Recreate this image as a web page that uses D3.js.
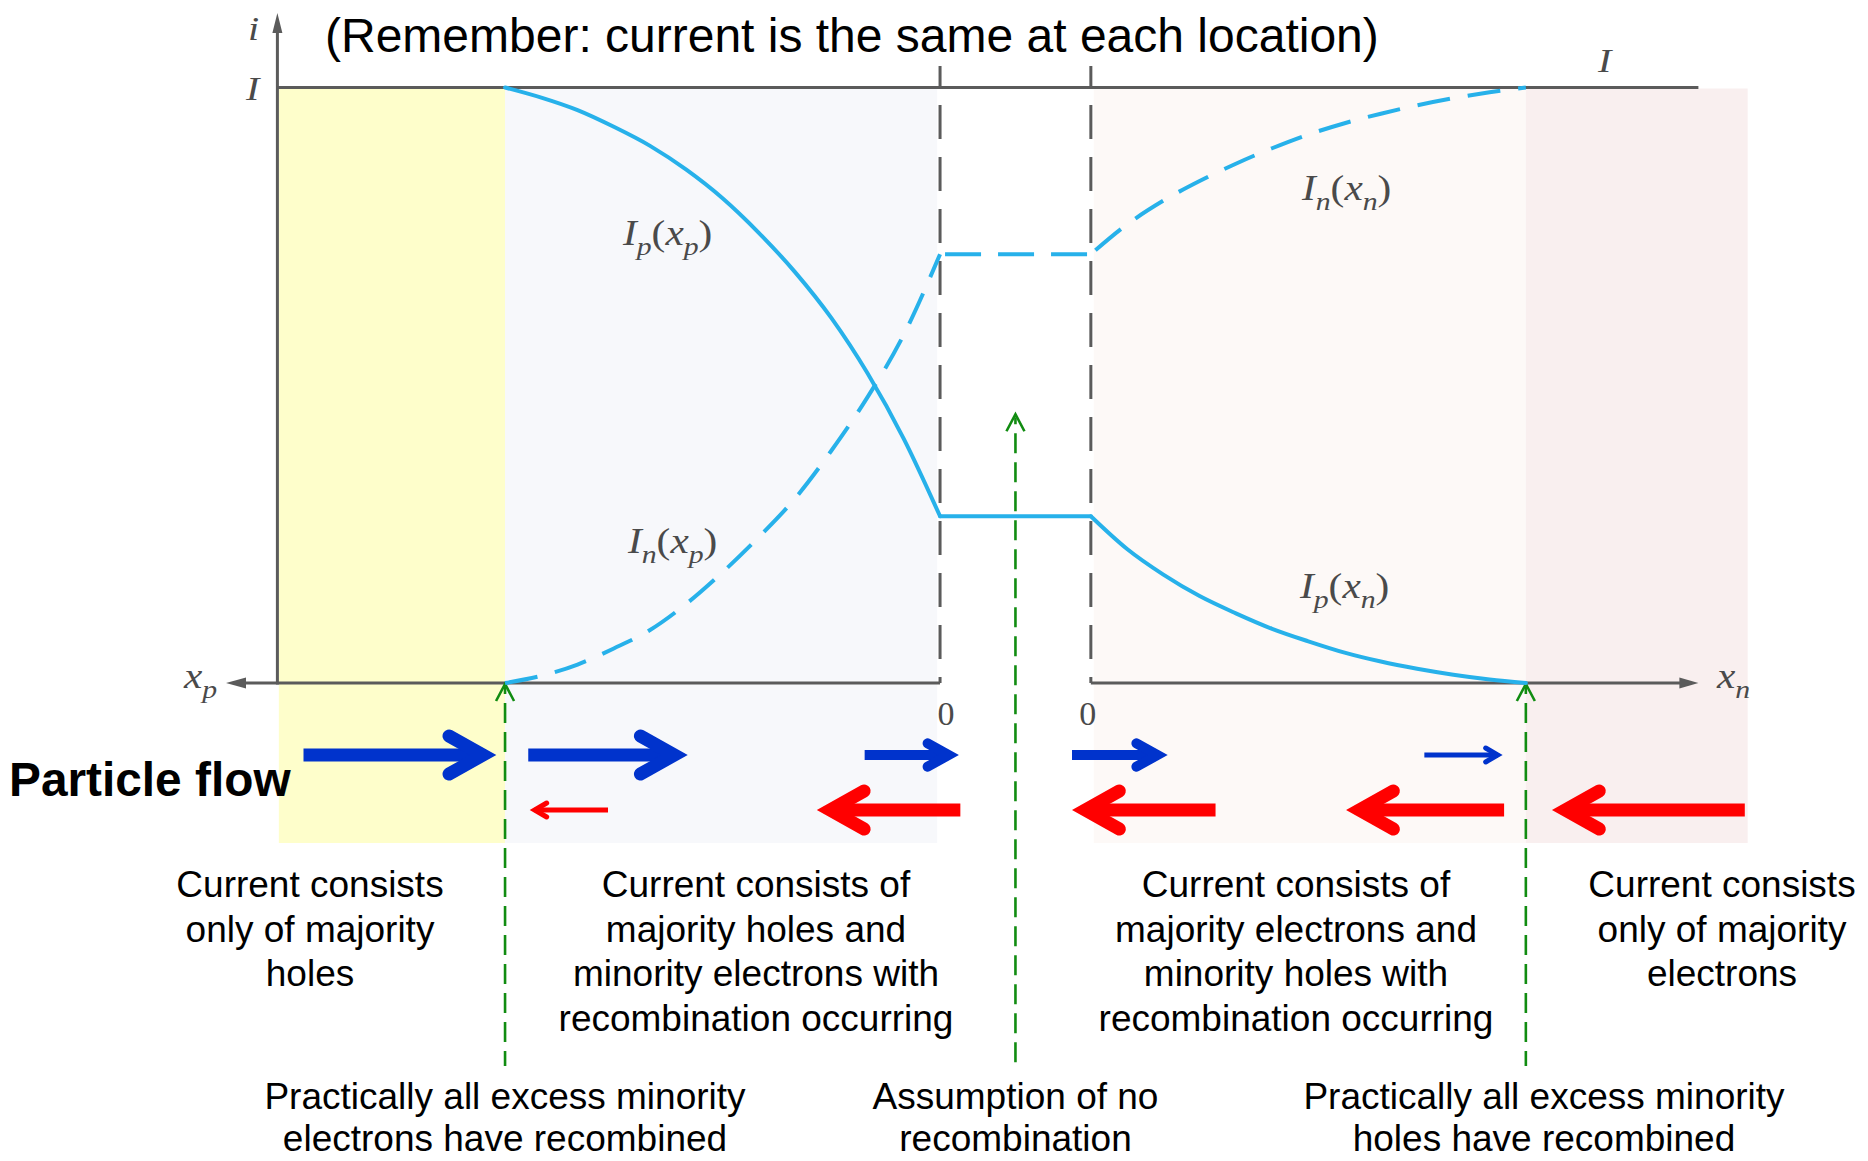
<!DOCTYPE html>
<html>
<head>
<meta charset="utf-8">
<script src="https://cdn.jsdelivr.net/npm/d3@7"></script>
<style>
  html, body { margin: 0; padding: 0; background: #fff; }
  svg { display: block; }
</style>
</head>
<body>
<svg id="chart" width="1868" height="1161"></svg>
<script>
// ---- Device geometry (arbitrary length units) ----
const depletionWidth = 1.04;   // width of the space-charge region
const recombLength = 3.0;      // distance over which excess minority carriers die out

// ---- Currents as a fraction of the total current I ----
// p side: distance x_p measured leftwards from the p edge of the depletion region
const xpDist = [0, 0.25, 0.5, 0.75, 1.0, 1.25, 1.5, 1.75, 2.0, 2.25, 2.5, 2.75, 3.0];
const ipOnP  = [0.28, 0.41, 0.52, 0.613, 0.69, 0.756, 0.814, 0.862, 0.902, 0.934, 0.962, 0.983, 1.0];
const inOnP  = [0.72, 0.585, 0.48, 0.39, 0.31, 0.245, 0.186, 0.133, 0.089, 0.058, 0.031, 0.012, 0.0];
// n side: distance x_n measured rightwards from the n edge
const xnDist = [0, 0.25, 0.5, 0.75, 1.0, 1.25, 1.5, 1.75, 2.0, 2.25, 2.5, 2.75, 3.0];
const inOnN  = [0.72, 0.77, 0.81, 0.843, 0.872, 0.898, 0.921, 0.94, 0.956, 0.97, 0.982, 0.992, 1.0];
const ipOnN  = [0.28, 0.225, 0.182, 0.146, 0.117, 0.091, 0.07, 0.051, 0.036, 0.024, 0.014, 0.006, 0.0];
// inside the depletion region (no recombination): value at p edge, n edge
const ipInDepletion = [0.28, 0.28];
const inInDepletion = [0.72, 0.72];

// ---- Particle-flow arrows (position u along the device, p edge at u = 0) ----
const flowCarrier = ["hole", "hole", "hole", "hole", "hole",
                     "electron", "electron", "electron", "electron", "electron"];
const flowFrom    = [-4.39, -2.84, -0.52, 0.91, 3.34,   -2.29, 0.14, 1.90, 3.89, 5.55];
const flowTo      = [-3.06, -1.74, 0.13, 1.57, 3.88,    -2.83, -0.85, 0.91, 2.80, 4.22];
const flowSize    = ["major", "major", "mid", "mid", "minor",
                     "minor", "major", "major", "major", "major"];

// ---- Text ----
const titleText = "(Remember: current is the same at each location)";
const regionNotes = [
  ["Current consists", "only of majority", "holes"],
  ["Current consists of", "majority holes and", "minority electrons with", "recombination occurring"],
  ["Current consists of", "majority electrons and", "minority holes with", "recombination occurring"],
  ["Current consists", "only of majority", "electrons"]
];
const markerNotes = [
  ["Practically all excess minority", "electrons have recombined"],
  ["Assumption of no", "recombination"],
  ["Practically all excess minority", "holes have recombined"]
];

// ---- Scales ----
const W = depletionWidth, L = recombLength;
const x = d3.scaleLinear().domain([-4.57, W + 4.19]).range([277.4, 1698.4]);
const y = d3.scaleLinear().domain([0, 1]).range([683, 87.5]);

const svg = d3.select("#chart");
const AXIS = "#5b5b5b";
const CURVE = "#27b1ea";
const GREEN = "#118c11";
const SANS = "'Liberation Sans', Arial, Helvetica, sans-serif";
const SERIF = "'Liberation Serif', 'Times New Roman', serif";

// ---- Region shading ----
const bgBottom = 843;
const regions = [
  { from: -4.56, to: -L, fill: "#fefecb" },
  { from: -L, to: -0.02, fill: "#f7f8fb" },
  { from: W + 0.02, to: W + L, fill: "#fdf9f7" },
  { from: W + L, to: 5.57, fill: "#f9efef" }
];
svg.append("g").selectAll("rect").data(regions).join("rect")
  .attr("x", d => x(d.from)).attr("width", d => x(d.to) - x(d.from))
  .attr("y", y(1) + 1).attr("height", d => bgBottom - y(1) - 1)
  .attr("fill", d => d.fill);

// ---- Axes ----
const axes = svg.append("g").attr("stroke", AXIS).attr("stroke-width", 3).attr("fill", "none");
// vertical current axis
axes.append("line").attr("x1", x(-4.57)).attr("x2", x(-4.57)).attr("y1", y(0) + 1.5).attr("y2", 26);
// level of total current I
axes.append("line").attr("x1", x(-4.57)).attr("x2", x(W + 4.19)).attr("y1", y(1)).attr("y2", y(1));
// x_p axis (points left) and x_n axis (points right)
axes.append("line").attr("x1", x(0)).attr("x2", 236).attr("y1", y(0)).attr("y2", y(0));
axes.append("line").attr("x1", x(W)).attr("x2", x(W + 4.19) - 10).attr("y1", y(0)).attr("y2", y(0));
const heads = svg.append("g").attr("fill", AXIS);
heads.append("path").attr("d", `M${x(-4.57)},13 L${x(-4.57) - 5},33 L${x(-4.57) + 5},33 Z`);
heads.append("path").attr("d", `M226,${y(0)} L246,${y(0) - 5.5} L246,${y(0) + 5.5} Z`);
heads.append("path").attr("d", `M${x(W + 4.19)},${y(0)} L${x(W + 4.19) - 19},${y(0) - 5.5} L${x(W + 4.19) - 19},${y(0) + 5.5} Z`);

// edges of the depletion region
svg.append("g").selectAll("line").data([0, W]).join("line")
  .attr("x1", d => x(d)).attr("x2", d => x(d))
  .attr("y1", 66).attr("y2", y(0))
  .attr("stroke", AXIS).attr("stroke-width", 3)
  .attr("stroke-dasharray", "34 18").attr("stroke-dashoffset", 13);

// ---- Recombination markers ----
const markers = [
  { u: -L, top: 0 },
  { u: W / 2, top: 0.453 },
  { u: W + L, top: 0 }
];
const mk = svg.append("g").attr("stroke", GREEN).attr("stroke-width", 2.6).attr("fill", "none");
mk.selectAll("line").data(markers).join("line")
  .attr("x1", d => x(d.u)).attr("x2", d => x(d.u))
  .attr("y1", d => y(d.top) + 4).attr("y2", 1066)
  .attr("stroke-dasharray", "20 9").attr("stroke-dashoffset", -16);
mk.selectAll("path").data(markers).join("path")
  .attr("d", d => `M${x(d.u) - 9},${y(d.top) + 18} L${x(d.u)},${y(d.top) + 1} L${x(d.u) + 9},${y(d.top) + 18}`);

// ---- Current curves ----
const pPts = vals => xpDist.map((d, i) => ({ u: -d, v: vals[i] })).reverse();
const nPts = vals => xnDist.map((d, i) => ({ u: W + d, v: vals[i] }));
const jPts = vals => [{ u: 0, v: vals[0] }, { u: W, v: vals[1] }];
const smooth = d3.line().x(d => x(d.u)).y(d => y(d.v)).curve(d3.curveMonotoneX);
const straight = d3.line().x(d => x(d.u)).y(d => y(d.v));

const curves = svg.append("g").attr("fill", "none").attr("stroke", CURVE).attr("stroke-width", 4)
  .attr("stroke-linejoin", "round");
// hole current: solid
curves.append("path").attr("d", smooth(pPts(ipOnP))).attr("stroke-linecap", "round");
curves.append("path").attr("d", straight(jPts(ipInDepletion))).attr("stroke-linecap", "round");
curves.append("path").attr("d", smooth(nPts(ipOnN))).attr("stroke-linecap", "round");
// electron current: dashed
curves.append("path").attr("d", smooth(pPts(inOnP))).attr("stroke-dasharray", "33 18");
curves.append("path").attr("d", straight(jPts(inInDepletion))).attr("stroke-dasharray", "36 17").attr("stroke-dashoffset", -5);
curves.append("path").attr("d", smooth(nPts(inOnN))).attr("stroke-dasharray", "33 18").attr("stroke-dashoffset", -6);

// ---- Math labels ----
function mathLabel(px, py, parts, size) {
  const t = svg.append("text")
    .attr("transform", `translate(${px},${py}) scale(1.18,1)`)
    .attr("font-family", SERIF).attr("font-size", size).attr("fill", "#4a4a4a");
  let shift = 0;
  parts.forEach(p => {
    const s = t.append("tspan").text(p.t);
    if (p.it) s.attr("font-style", "italic");
    const target = p.sub ? size * 0.28 : 0;
    if (target !== shift) { s.attr("dy", target - shift); shift = target; }
    if (p.sub) s.attr("font-size", size * 0.72);
  });
  return t;
}
const lbl = (main, a, b) => [
  { t: "I", it: true }, { t: main, it: true, sub: true }, { t: "(" },
  { t: "x", it: true }, { t: b, it: true, sub: true }, { t: ")" }
];
mathLabel(623, 245, lbl("p", "x", "p"), 35);
mathLabel(628, 553, lbl("n", "x", "p"), 35);
mathLabel(1302, 200, lbl("n", "x", "n"), 35);
mathLabel(1300, 598, lbl("p", "x", "n"), 35);
mathLabel(248, 40, [{ t: "i", it: true }], 34);
mathLabel(246, 100, [{ t: "I", it: true }], 34);
mathLabel(1598, 72, [{ t: "I", it: true }], 34);
mathLabel(184, 688, [{ t: "x", it: true }, { t: "p", it: true, sub: true }], 35);
mathLabel(1717, 688, [{ t: "x", it: true }, { t: "n", it: true, sub: true }], 35);
svg.append("g").selectAll("text").data([{ u: 0, dx: 6 }, { u: W, dx: -3 }]).join("text")
  .attr("x", d => x(d.u) + d.dx).attr("y", 725)
  .attr("text-anchor", "middle")
  .attr("font-family", SERIF).attr("font-size", 34).attr("fill", "#4a4a4a")
  .text("0");

// ---- Particle-flow arrows ----
const rowY = { hole: 755, electron: 810 };
const rowColor = { hole: "#0033cc", electron: "#ff0000" };
const sizes = {
  major: { w: 13, hl: 34, hh: 19 },
  mid:   { w: 10, hl: 21, hh: 11.7 },
  minor: { w: 5,  hl: 12, hh: 7 }
};
const flows = flowFrom.map((f, i) => ({ from: f, to: flowTo[i], carrier: flowCarrier[i], size: flowSize[i] }));
const fg = svg.append("g");
flows.forEach(d => {
  const s = sizes[d.size];
  const x0 = x(d.from), x1 = x(d.to), dir = Math.sign(x1 - x0);
  const yy = rowY[d.carrier], col = rowColor[d.carrier];
  const inset = (s.w / 2) / Math.sin(Math.atan(s.hh / s.hl));
  const vx = x1 - dir * inset;
  fg.append("line").attr("x1", x0).attr("x2", vx).attr("y1", yy).attr("y2", yy)
    .attr("stroke", col).attr("stroke-width", s.w);
  fg.append("path")
    .attr("d", `M${vx - dir * s.hl},${yy - s.hh} L${vx},${yy} L${vx - dir * s.hl},${yy + s.hh}`)
    .attr("fill", "none").attr("stroke", col).attr("stroke-width", s.w)
    .attr("stroke-linecap", "round").attr("stroke-linejoin", "miter").attr("stroke-miterlimit", 10);
});

// ---- Slide text ----
svg.append("text").attr("x", 325).attr("y", 52)
  .attr("font-family", SANS).attr("font-size", 48).attr("fill", "#000")
  .text(titleText);
svg.append("text").attr("x", 9).attr("y", 796)
  .attr("font-family", SANS).attr("font-size", 47.8).attr("font-weight", "bold").attr("fill", "#000")
  .text("Particle flow");

function block(cx, lines, baseline, step) {
  svg.append("g").selectAll("text").data(lines).join("text")
    .attr("x", cx).attr("y", (d, i) => baseline + i * step)
    .attr("text-anchor", "middle")
    .attr("font-family", SANS).attr("font-size", 37).attr("fill", "#000")
    .text(d => d);
}
const noteCenters = [310, 756, 1296, 1722];
regionNotes.forEach((lines, i) => block(noteCenters[i], lines, 897, 44.5));
const markerCenters = [505, 1015.5, 1544];
markerNotes.forEach((lines, i) => block(markerCenters[i], lines, 1109, 42));
</script>
</body>
</html>
